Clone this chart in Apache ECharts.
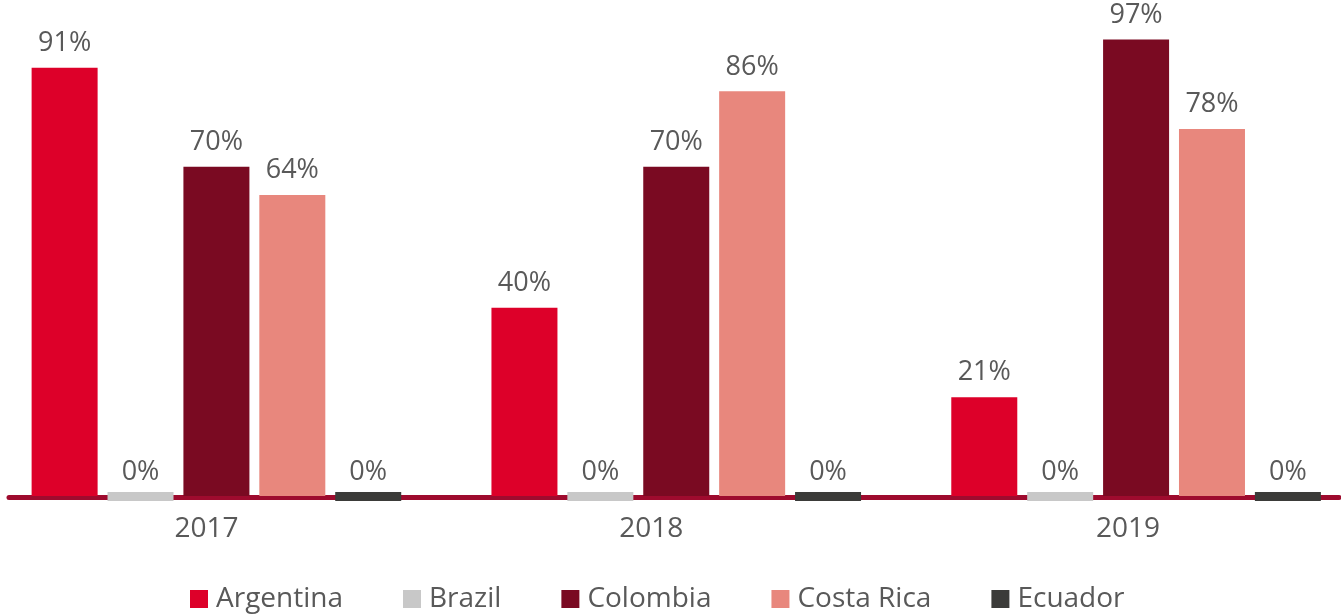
<!DOCTYPE html>
<html>
<head>
<meta charset="utf-8">
<script src="https://cdn.jsdelivr.net/npm/echarts@6/dist/echarts.min.js"></script>
<style>
  html, body { margin: 0; padding: 0; background: #fff; }
  #chart { width: 1341px; height: 616px; }
</style>
</head>
<body>
<div id="chart"></div>
<script>
// Share of each country by year (percent)
const years = ['2017', '2018', '2019'];
const countries = ['Argentina', 'Brazil', 'Colombia', 'Costa Rica', 'Ecuador'];
const argentina = [91, 40, 21];
const brazil = [0, 0, 0];
const colombia = [70, 70, 97];
const costaRica = [64, 86, 78];
const ecuador = [0, 0, 0];

const values = [argentina, brazil, colombia, costaRica, ecuador];
const colors = ['#DD0029', '#C8C8C8', '#7A0A22', '#E8877D', '#3B3B39'];
const textColor = '#595959';
const fontFamily = '"Open Sans", "Noto Sans", sans-serif';

// Horizontal nudges for the year labels (px, negative = left)
const yearShift = [-10, -25, -8];

// Plot geometry: value 0 sits at y = 496, 100 at y = 25.5
const plotTop = 25.5;
const plotBottom = 120;
const pxPerUnit = (616 - plotTop - plotBottom) / 100;
// Zero-value bars straddle the baseline rule, so they use an axis shifted 5px down
const zeroDrop = 5 / pxPerUnit;

const chart = echarts.init(document.getElementById('chart'), null, { renderer: 'canvas' });

const series = countries.map((name, i) => {
  const allZero = values[i].every(v => v === 0);
  return {
    name: name,
    type: 'bar',
    xAxisIndex: 0,
    yAxisIndex: allZero ? 1 : 0,
    data: values[i],
    barWidth: 66,
    barGap: '15%',
    barMinHeight: allZero ? 9 : 0,
    clip: false,
    z: allZero ? 3 : 2,
    itemStyle: { color: colors[i] },
    label: {
      show: true,
      position: 'top',
      distance: allZero ? 6 : 11,
      formatter: '{c}%',
      color: textColor,
      fontFamily: fontFamily,
      fontSize: 27,
      lineHeight: 27
    }
  };
});

chart.setOption({
  animation: false,
  backgroundColor: '#ffffff',
  grid: [
    { left: -13.5, right: -25, top: plotTop, bottom: plotBottom, outerBoundsMode: 'none' },
    // thin grid that only carries the baseline rule
    { left: 9, right: 2, top: plotTop, bottom: 118.5, outerBoundsMode: 'none' }
  ],
  legend: {
    data: countries,
    left: 190,
    top: 585,
    padding: 0,
    itemWidth: 18,
    itemHeight: 18,
    itemGap: 60,
    icon: 'rect',
    textStyle: {
      color: textColor,
      fontFamily: fontFamily,
      fontSize: 28,
      lineHeight: 28,
      padding: [0, 0, 0, 3]
    }
  },
  xAxis: [
    {
      type: 'category',
      gridIndex: 0,
      data: years.map((y, i) => ({
        value: y,
        textStyle: {
          padding: yearShift[i] < 0 ? [0, -2 * yearShift[i], 0, 0] : [0, 0, 0, 2 * yearShift[i]]
        }
      })),
      axisLine: { show: false },
      axisTick: { show: false },
      axisLabel: {
        color: textColor,
        fontFamily: fontFamily,
        fontSize: 28,
        lineHeight: 28,
        margin: 19
      }
    },
    {
      type: 'value',
      gridIndex: 1,
      min: 0,
      max: 1,
      axisLine: { show: true, onZero: false, lineStyle: { color: '#9E0B2E', width: 5 } },
      axisTick: { show: false },
      axisLabel: { show: false },
      splitLine: { show: false }
    }
  ],
  yAxis: [
    { type: 'value', gridIndex: 0, min: 0, max: 100, show: false },
    { type: 'value', gridIndex: 0, min: zeroDrop, max: 100 + zeroDrop, show: false },
    { type: 'value', gridIndex: 1, min: 0, max: 1, show: false }
  ],
  series: series
});
</script>
</body>
</html>
